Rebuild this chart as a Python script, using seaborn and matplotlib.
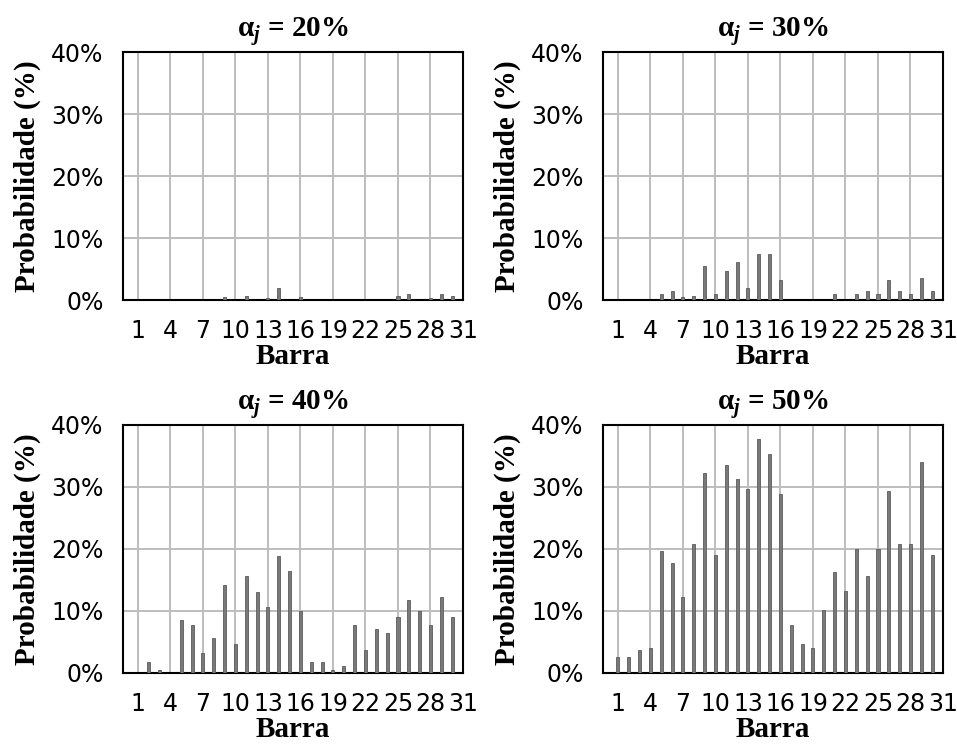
import matplotlib
matplotlib.use("Agg")
import matplotlib.pyplot as plt
import seaborn as sns
import pandas as pd
import numpy as np
from matplotlib.ticker import PercentFormatter

barras = list(range(1, 31))
alpha_labels = ["20%", "30%", "40%", "50%"]

prob_20 = [0, 0, 0, 0, 0, 0, 0, 0, 0.5, 0, 0.6, 0, 0.4, 2.0, 0, 0.5,
           0, 0, 0, 0, 0, 0, 0, 0, 0.6, 0.9, 0, 0.4, 0.9, 0.6]
prob_30 = [0, 0, 0, 0, 0.9, 1.5, 0.5, 0.6, 5.5, 0.9, 4.6, 6.1, 2.0, 7.5, 7.5, 3.2,
           0, 0, 0, 0, 0.9, 0, 0.9, 1.5, 0.9, 3.2, 1.5, 0.9, 3.5, 1.5]
prob_40 = [0, 1.7, 0.5, 0, 8.5, 7.7, 3.2, 5.7, 14.2, 4.6, 15.6, 13.1, 10.6, 18.8, 16.5, 10.0,
           1.7, 1.7, 0.5, 1.2, 7.7, 3.7, 7.1, 6.5, 9.1, 11.7, 10.0, 7.7, 12.2, 9.1]
prob_50 = [2.6, 2.6, 3.7, 4.0, 19.6, 17.7, 12.2, 20.8, 32.2, 19.1, 33.5, 31.3, 29.6, 37.8, 35.3, 28.8,
           7.7, 4.6, 4.0, 10.1, 16.3, 13.2, 20.0, 15.7, 20.0, 29.3, 20.8, 20.8, 34.1, 19.1]

xticks = [1, 4, 7, 10, 13, 16, 19, 22, 25, 28, 31]
yticks = [0, 10, 20, 30, 40]

sns.set_style("white")
plt.rcParams['font.family'] = ['DejaVu Sans']
plt.rcParams['text.color'] = 'black'
plt.rcParams['axes.labelcolor'] = 'black'
plt.rcParams['mathtext.fontset'] = 'custom'
plt.rcParams['mathtext.rm'] = 'Liberation Serif:bold'
plt.rcParams['mathtext.it'] = 'Liberation Serif:italic:bold'
plt.rcParams['mathtext.bf'] = 'Liberation Serif:bold'

fig = plt.figure(figsize=(9.57, 7.47), dpi=100)
W = 340 / 957
H = 248 / 747
positions = [
    (123 / 957, 1 - 300 / 747),
    (603 / 957, 1 - 300 / 747),
    (123 / 957, 1 - 673 / 747),
    (603 / 957, 1 - 673 / 747),
]
series = [prob_20, prob_30, prob_40, prob_50]

serif = dict(family='Liberation Serif', weight='bold', color='black')

for (l, b), vals, lab in zip(positions, series, alpha_labels):
    ax = fig.add_axes([l, b, W, H])
    df = pd.DataFrame({"Barra": barras, "Prob": vals})
    sns.barplot(data=df, x="Barra", y="Prob", native_scale=True, width=0.28,
                color="#7a7a7a", saturation=1, edgecolor="#5a5a5a", linewidth=0.6,
                ax=ax, zorder=3)
    ax.set_xlim(-0.38, 31)
    ax.set_ylim(0, 40)
    ax.set_xticks(xticks)
    ax.set_xticklabels([str(t) for t in xticks])
    ax.set_yticks(yticks)
    ax.yaxis.set_major_formatter(PercentFormatter(decimals=0))
    ax.grid(True, color="#bdbdbd", linewidth=1.4, zorder=0)
    ax.set_axisbelow(True)
    for s in ax.spines.values():
        s.set_visible(True)
        s.set_color("black")
        s.set_linewidth(1.5)
    ax.tick_params(axis='both', direction='out', length=7, width=1.5,
                   labelsize=17, colors='black', pad=3)
    ax.tick_params(axis='y', pad=7)
    ax.tick_params(axis='x', pad=7)
    ax.set_xlabel("Barra", fontsize=21, labelpad=0, **serif)
    ax.set_ylabel("Probabilidade (%)", fontsize=21, labelpad=7, **serif)
    ax.set_title("α$_{j}$ = " + lab, fontsize=21, pad=11, **serif)

fig.savefig("out.png", dpi=100)
